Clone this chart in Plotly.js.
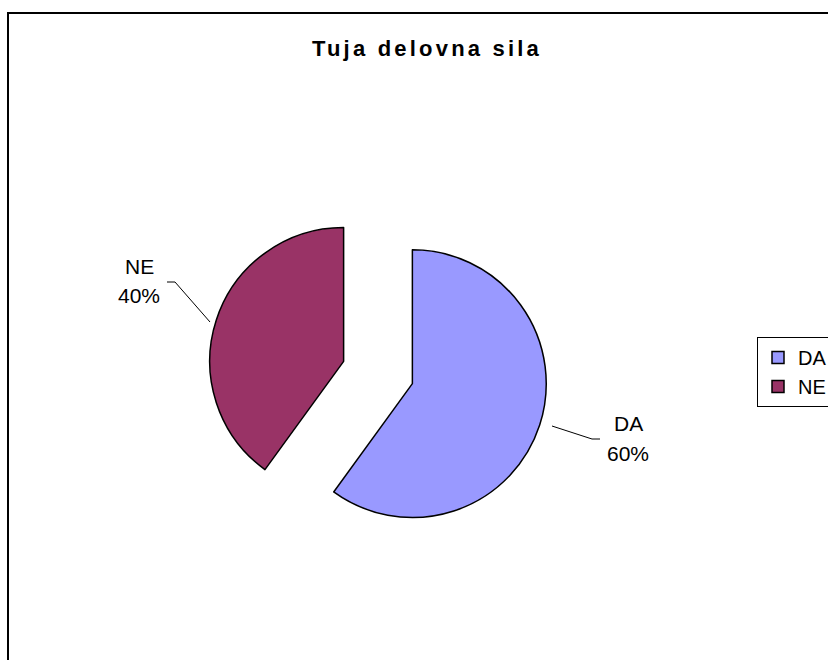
<!DOCTYPE html>
<html><head><meta charset="utf-8">
<script src="https://cdn.plot.ly/plotly-3.0.1.min.js"></script>
<style>
html,body{margin:0;padding:0;background:#fff;overflow:hidden;width:828px;height:660px}
#chart{width:850px;height:660px}
.gtitle{letter-spacing:3.2px}
</style>
</head><body><div id="chart"></div><script>
const chartTitle = 'Tuja delovna sila';
const categories = ['DA', 'NE'];
const values = [60, 40];
const sliceColors = ['#9999FF', '#993366'];

const W = 850, H = 660;   // page is wider than the 828px window, so the right edge is cut off like the reference
const FONT = 'Liberation Sans, Arial, Helvetica, sans-serif';
const px = x => x / W;
const py = y => 1 - y / H;

const total = values.reduce((a, b) => a + b, 0);
const pct = values.map(v => Math.round(v / total * 100) + '%');

// label placement (text only) for each category
const labelPos = {
  DA: {x: 628, yName: 423, yPct: 453},
  NE: {x: 139, yName: 266, yPct: 295}
};
const leaderPaths = [
  'M552,426 L592,439 L600,439',
  'M167,282 L175,282 L210,322'
];

const annotations = [];
categories.forEach((c, i) => {
  const p = labelPos[c];
  annotations.push({text: c, x: px(p.x), y: py(p.yName), xref: 'paper', yref: 'paper',
    xanchor: 'center', yanchor: 'middle', showarrow: false, font: {family: FONT, size: 21, color: '#000'}});
  annotations.push({text: pct[i], x: px(p.x), y: py(p.yPct), xref: 'paper', yref: 'paper',
    xanchor: 'center', yanchor: 'middle', showarrow: false, font: {family: FONT, size: 21, color: '#000'}});
});

const shapes = leaderPaths.map(d => ({
  type: 'path', xref: 'paper', yref: 'paper',
  path: d.replace(/(\d+),(\d+)/g, (m, a, b) => px(+a) + ',' + py(+b)),
  line: {color: '#000', width: 1}
}));
shapes.push({type: 'rect', xref: 'paper', yref: 'paper', x0: px(8), x1: 1.2, y0: -0.2, y1: py(13),
  line: {color: '#000', width: 2}, layer: 'below'});

const trace = {
  type: 'pie',
  labels: categories,
  values: values,
  sort: false,
  direction: 'clockwise',
  rotation: 0,
  pull: [0.27, 0.27],
  textinfo: 'none',
  hoverinfo: 'none',
  marker: {colors: sliceColors, line: {color: '#000', width: 1.5}},
  domain: {x: [px(208), px(548)], y: [py(542.5), py(202.5)]}
};

const layout = {
  width: W, height: H,
  margin: {l: 0, r: 0, t: 0, b: 0},
  paper_bgcolor: '#fff',
  title: {text: chartTitle, x: px(427), xanchor: 'center', y: py(48), yanchor: 'middle',
    xref: 'paper', yref: 'paper',
    font: {family: FONT, size: 22, weight: 'bold', color: '#000'}},
  showlegend: true,
  legend: {x: px(757), y: py(337), xanchor: 'left', yanchor: 'top',
    bordercolor: '#000', borderwidth: 1, bgcolor: '#fff',
    font: {family: FONT, size: 20, color: '#000'}},
  annotations: annotations,
  shapes: shapes
};

Plotly.newPlot('chart', [trace], layout, {displayModeBar: false, staticPlot: true});
</script></body></html>
